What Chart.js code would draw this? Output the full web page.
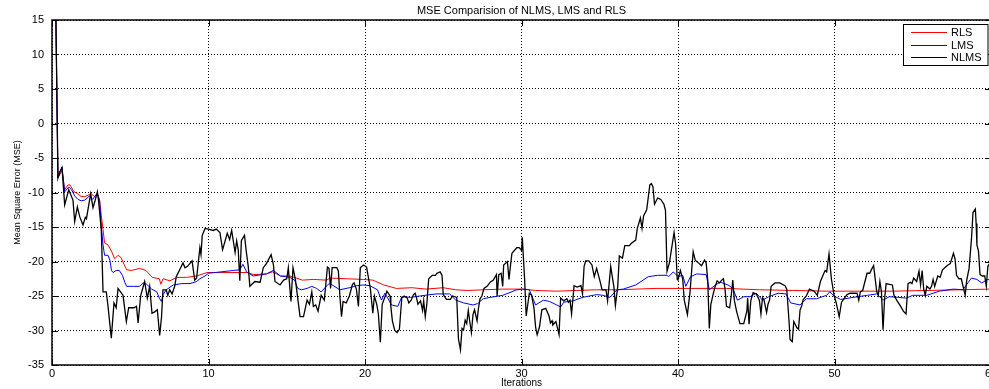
<!DOCTYPE html>
<html><head><meta charset="utf-8">
<script src="https://cdn.jsdelivr.net/npm/chart.js@4/dist/chart.umd.min.js"></script>
<style>
html,body{margin:0;padding:0;background:#fff;overflow:hidden;width:989px;height:389px}
#wrap{position:absolute;left:0;top:0;width:1044px;height:389px}
</style>
</head><body><div id="wrap"><canvas id="c" width="1044" height="389"></canvas></div>
<script>
const chartTitle = 'MSE Comparision of NLMS, LMS and RLS';
const xTitle = 'Iterations';
const yTitle = 'Mean Square Error (MSE)';
const seriesNames = ['RLS', 'LMS', 'NLMS'];
const xTicks = [0, 10, 20, 30, 40, 50, 60];
const yTicks = [-35, -30, -25, -20, -15, -10, -5, 0, 5, 10, 15];

const rlsX = [0.1,0.25,0.38,0.64,0.81,1.02,1.15,1.4,1.6,1.87,2.1,2.5,2.73,2.9,3.04,3.15,3.26,3.36,3.58,3.8,4.0,4.22,4.4,4.6,4.77,5.07,5.6,6.0,6.4,6.86,6.95,7.1,7.54,7.96,8.6,9.24,9.9,10.5,11.5,12.5,12.87,13.7,14.1,14.6,15.2,15.6,16.0,16.7,17.55,17.76,18.8,19.9,20.5,21.2,22.0,23.0,23.9,25.0,25.8,26.6,27.56,28.8,30.1,30.9,32.25,33.5,34.8,36.1,37.3,38.6,40.0,43.1,45.2,47.4,49.5,51.6,53.7,55.9,58.0,60];
const rlsY = [16,15,-7.9,-6.8,-9.6,-8.9,-8.9,-9.9,-10.1,-10.6,-10.6,-10.2,-10.6,-10.1,-11.1,-13.3,-15.4,-17.3,-17.6,-18.5,-19.6,-19.1,-19.4,-20.4,-21.2,-21.3,-21.0,-21.3,-22.3,-22.5,-23.3,-22.5,-22.8,-22.3,-22.3,-22.1,-21.6,-21.6,-21.6,-21.6,-21.9,-21.8,-21.5,-22.1,-22.1,-22.4,-22.7,-22.6,-22.7,-22.4,-22.5,-22.6,-22.7,-23.4,-23.9,-23.8,-24.0,-23.8,-24.1,-24.2,-24.1,-24.0,-24.0,-24.2,-24.3,-24.2,-24.1,-24.1,-24.0,-23.9,-23.9,-23.9,-24.1,-24.2,-24.3,-24.3,-24.3,-24.2,-24.1,-24.0];

const lmsX = [0.1,0.25,0.38,0.64,0.81,1.07,1.25,1.45,1.66,1.87,2.1,2.4,2.6,2.86,2.95,3.04,3.15,3.26,3.36,3.58,3.7,3.8,3.9,4.1,4.3,4.5,4.65,4.77,5.2,5.6,5.83,6.05,6.37,6.7,6.86,6.99,7.1,7.3,7.75,8.3,8.82,9.24,9.45,9.78,10.0,10.8,11.58,12.0,12.2,12.43,12.85,13.7,14.14,14.6,15.2,15.5,15.7,15.95,16.3,16.6,16.9,17.2,17.65,17.76,18.4,19.0,19.5,19.9,20.3,20.8,21.05,21.27,21.7,22.1,22.35,22.9,23.5,24.15,24.6,25.4,25.8,26.3,26.9,27.2,27.55,28.0,28.8,29.7,30.1,30.5,30.9,31.4,31.8,32.25,32.5,32.7,33.3,33.9,34.8,35.2,35.65,36.1,36.5,37.3,38.1,38.7,39.3,39.4,39.7,40.0,40.3,40.5,40.8,41.2,41.8,42.0,42.4,42.7,43.2,43.5,43.8,44.2,44.6,45.0,45.4,45.8,46.4,46.9,47.2,47.8,48.2,48.85,49.5,49.7,50.03,50.4,51.2,52.1,52.7,53.1,53.5,54.1,54.6,55.0,55.9,56.7,57.6,58.2,58.75,59.1,59.4,59.8,60];
const lmsY = [16,15,-7.9,-6.3,-9.9,-9.2,-9.6,-10.5,-11.0,-11.2,-11.1,-10.5,-11.0,-10.2,-10.5,-11.1,-14.9,-17.6,-19.1,-19.1,-19.8,-21.3,-21.6,-21.3,-21.3,-22.0,-23.0,-23.6,-23.6,-23.6,-23.1,-23.3,-24.0,-24.4,-25.3,-25.8,-24.8,-24.1,-23.4,-23.2,-23.2,-22.9,-22.5,-22.1,-21.7,-21.5,-21.3,-21.2,-20.4,-21.5,-22.1,-21.8,-21.3,-22.1,-22.3,-22.7,-23.9,-24.1,-23.9,-23.6,-23.9,-24.4,-23.3,-23.2,-24.1,-23.8,-23.5,-23.4,-23.5,-24.1,-25.6,-24.6,-26.3,-26.5,-25.1,-25.2,-25.0,-24.8,-24.7,-24.7,-25.6,-26.0,-26.3,-26.1,-25.4,-25.2,-24.9,-24.1,-24.0,-24.1,-26.3,-25.6,-25.8,-26.3,-26.6,-25.9,-25.7,-25.2,-24.8,-24.9,-25.2,-24.1,-24.0,-23.4,-22.2,-22.0,-22.0,-22.2,-21.5,-22.2,-22.0,-23.6,-22.2,-21.8,-21.9,-24.1,-23.4,-23.0,-23.4,-23.9,-25.6,-25.1,-25.1,-24.6,-25.6,-25.1,-24.6,-24.7,-26.0,-26.3,-25.4,-25.4,-24.9,-24.4,-25.1,-25.5,-25.2,-24.9,-24.7,-25.6,-25.1,-25.2,-25.3,-24.9,-24.9,-24.3,-24.0,-24.1,-22.4,-22.6,-23.1,-22.6,-22.7];

const nlmsX = [0.1,0.25,0.38,0.5,0.64,0.81,1.07,1.34,1.45,1.62,1.77,1.98,2.13,2.2,2.47,2.62,2.75,2.9,2.98,3.15,3.26,3.47,3.58,3.79,3.96,4.1,4.22,4.54,4.75,4.9,5.24,5.4,5.5,5.67,5.92,6.09,6.24,6.39,6.56,6.73,6.88,7.0,7.09,7.3,7.4,7.52,7.67,7.84,7.94,8.16,8.37,8.5,8.66,8.95,9.12,9.24,9.45,9.52,9.6,9.78,10.0,10.3,10.5,10.73,10.9,11.2,11.35,11.48,11.7,11.8,11.9,12.0,12.1,12.3,12.4,12.54,12.64,12.96,13.3,13.5,13.7,14.0,14.15,14.25,14.57,14.8,15.0,15.1,15.2,15.27,15.4,15.55,15.7,15.85,16.07,16.3,16.45,16.6,16.7,16.85,17.0,17.2,17.4,17.6,17.7,17.8,17.9,18.2,18.3,18.4,18.5,18.6,18.8,19.0,19.2,19.3,19.45,19.58,19.7,19.9,20.1,20.34,20.5,20.6,20.75,20.85,20.98,21.1,21.25,21.4,21.6,21.65,21.75,21.9,22.05,22.2,22.35,22.5,22.7,22.8,22.95,23.1,23.2,23.3,23.38,23.55,23.68,23.75,23.85,23.95,24.07,24.3,24.5,24.6,24.8,24.92,25.0,25.2,25.45,25.6,25.86,25.97,26.1,26.2,26.3,26.4,26.5,26.6,26.7,26.8,26.9,27.0,27.16,27.25,27.35,27.47,27.6,27.8,28.0,28.2,28.4,28.44,28.55,28.7,28.8,28.86,29.1,29.2,29.3,29.39,29.7,29.85,30.0,30.05,30.2,30.3,30.5,30.65,30.8,30.9,31.0,31.15,31.3,31.55,31.76,31.85,31.95,32.0,32.2,32.4,32.5,32.7,32.9,33.0,33.1,33.2,33.36,33.55,33.8,33.9,34.0,34.1,34.3,34.5,34.65,34.8,35.0,35.15,35.4,35.5,35.7,35.8,35.9,36.0,36.15,36.25,36.45,36.6,36.9,37.0,37.3,37.4,37.6,37.7,37.8,38.0,38.2,38.3,38.4,38.5,38.7,38.9,39.1,39.2,39.3,39.45,39.6,39.75,39.85,39.95,40.0,40.15,40.3,40.4,40.6,40.77,40.9,40.97,41.1,41.3,41.5,41.7,41.8,41.9,42.0,42.1,42.25,42.35,42.5,42.65,42.75,42.9,43.0,43.1,43.3,43.4,43.5,43.6,43.75,43.96,44.2,44.4,44.45,44.54,44.65,44.8,45.0,45.2,45.3,45.4,45.5,45.66,45.75,45.85,45.95,46.2,46.5,46.84,46.95,47.1,47.16,47.3,47.4,47.6,47.7,47.8,47.9,48.0,48.2,48.4,48.7,48.9,49.1,49.3,49.4,49.5,49.65,49.8,49.98,50.1,50.3,50.45,50.6,50.8,51.0,51.2,51.44,51.55,51.65,51.8,52.08,52.25,52.4,52.5,52.7,52.8,52.9,53.0,53.1,53.2,53.3,53.5,53.7,53.8,54.0,54.2,54.4,54.57,54.7,54.85,54.95,55.06,55.25,55.4,55.5,55.6,55.7,55.8,55.9,56.1,56.2,56.3,56.4,56.6,56.75,56.9,57.1,57.25,57.4,57.6,57.7,57.8,57.95,58.1,58.35,58.45,58.6,58.75,58.85,59.0,59.05,59.1,59.2,59.3,59.45,59.6,59.7,59.8,60];
const nlmsY = [16,15,-7.9,-7.0,-6.4,-11.8,-9.6,-11.1,-14.2,-12.1,-13.5,-14.7,-13.6,-13.8,-10.2,-12.2,-11.2,-9.9,-11.3,-15.4,-24.4,-24.4,-26.5,-31.1,-26.0,-26.7,-23.9,-24.9,-28.7,-26.7,-26.7,-26.5,-28.9,-24.9,-22.9,-25.3,-23.6,-27.5,-27.3,-27.0,-30.7,-28.0,-24.1,-24.1,-24.9,-24.1,-24.7,-23.6,-22.2,-21.2,-20.2,-20.9,-20.7,-19.9,-22.7,-22.4,-18.0,-19.0,-16.2,-15.2,-15.3,-15.5,-15.3,-15.8,-18.3,-15.9,-16.8,-15.5,-18.7,-17.0,-18.3,-22.8,-17.0,-16.2,-18.3,-20.7,-23.6,-22.9,-23.0,-20.9,-20.3,-19.0,-20.5,-22.9,-23.4,-22.7,-22.5,-20.9,-23.9,-25.8,-20.9,-22.6,-25.3,-28.0,-28.0,-25.6,-26.2,-24.4,-26.5,-26.3,-27.2,-24.9,-25.6,-20.8,-21.0,-23.9,-20.9,-20.9,-21.4,-25.2,-28.0,-25.8,-26.0,-25.0,-23.3,-23.1,-24.0,-26.5,-20.9,-20.5,-20.8,-23.9,-27.5,-25.0,-26.2,-27.5,-31.7,-26.2,-25.3,-24.3,-25.0,-26.5,-28.6,-30.0,-30.3,-29.8,-25.3,-25.0,-25.3,-26.0,-25.6,-24.8,-24.6,-25.3,-26.2,-25.7,-27.1,-25.7,-28.0,-26.2,-22.5,-22.0,-22.0,-21.7,-21.5,-22.0,-24.8,-25.5,-25.5,-25.0,-25.2,-31.2,-32.8,-29.7,-29.9,-28.5,-29.0,-27.1,-28.8,-30.3,-27.7,-27.0,-28.6,-26.8,-25.4,-25.0,-23.9,-23.6,-23.0,-22.7,-21.9,-25.0,-21.9,-21.7,-23.6,-20.5,-20.0,-22.6,-20.5,-18.8,-18.0,-18.0,-18.4,-16.5,-22.6,-27.9,-24.6,-24.9,-26.8,-29.5,-30.6,-29.5,-27.0,-26.8,-27.9,-28.9,-28.6,-29.2,-28.7,-30.6,-25.3,-25.7,-25.4,-25.9,-25.6,-27.6,-23.5,-23.7,-23.5,-24.7,-20.7,-19.9,-19.9,-20.5,-22.2,-21.0,-22.7,-24.1,-24.1,-25.7,-20.7,-22.2,-23.6,-26.4,-23.6,-19.2,-19.5,-17.7,-17.7,-17.4,-16.9,-15.2,-13.7,-15.2,-13.4,-12.5,-8.9,-8.7,-9.2,-11.7,-10.8,-11.0,-11.7,-12.6,-21.4,-20.2,-18.0,-15.8,-17.5,-22.6,-22.7,-21.3,-22.5,-25.6,-27.7,-24.4,-20.5,-18.6,-19.8,-20.2,-20.6,-19.8,-20.2,-22.7,-29.7,-26.2,-24.7,-23.8,-22.8,-23.1,-22.8,-22.5,-23.9,-26.5,-26.7,-25.0,-22.7,-25.6,-27.3,-29.0,-29.0,-27.2,-25.3,-29.1,-25.7,-24.5,-24.7,-25.6,-27.6,-25.2,-25.6,-27.4,-26.2,-25.6,-23.6,-23.1,-23.1,-23.5,-24.0,-28.8,-31.3,-31.6,-28.7,-29.6,-29.8,-27.0,-26.5,-25.5,-25.0,-24.0,-24.3,-24.9,-22.9,-21.8,-21.3,-21.5,-18.9,-22.5,-25.0,-25.9,-28.0,-25.9,-25.4,-24.8,-24.6,-24.6,-24.6,-25.6,-24.4,-24.2,-21.7,-21.7,-21.0,-20.6,-24.4,-24.9,-22.9,-24.4,-29.9,-25.4,-23.2,-23.3,-23.4,-24.9,-25.7,-26.4,-27.2,-27.6,-23.2,-23.0,-23.2,-22.4,-22.9,-21.4,-23.4,-21.3,-24.0,-24.9,-23.6,-24.0,-23.6,-22.6,-23.6,-22.1,-22.3,-21.2,-20.8,-20.5,-20.3,-18.8,-19.6,-22.0,-22.5,-22.5,-24.9,-22.7,-21.0,-16.8,-12.9,-12.4,-14.5,-17.6,-18.5,-21.9,-22.1,-22.1,-23.6,-20.7,-20.0];

const seriesColors = ['#ff0000', '#0000ff', '#000000'];

function pts(xs, ys) { return xs.map((x, i) => ({ x: x, y: ys[i] })); }

const FONT = '"Liberation Sans", Arial, Helvetica, sans-serif';

const framePlugin = {
  id: 'frame',
  afterDatasetsDraw(chart) {
    const { ctx, chartArea: a, scales } = chart;
    ctx.save();
    // inward tick marks (MATLAB style)
    ctx.strokeStyle = '#000'; ctx.lineWidth = 1; ctx.setLineDash([]);
    ctx.beginPath();
    xTicks.forEach(v => {
      const px = Math.round(scales.x.getPixelForValue(v)) + 0.5;
      ctx.moveTo(px, a.bottom); ctx.lineTo(px, a.bottom - 6);
      ctx.moveTo(px, a.top); ctx.lineTo(px, a.top + 6);
    });
    yTicks.forEach(v => {
      const py = Math.round(scales.y.getPixelForValue(v)) + 0.5;
      ctx.moveTo(a.left, py); ctx.lineTo(a.left + 6, py);
      ctx.moveTo(a.right, py); ctx.lineTo(a.right - 6, py);
    });
    ctx.stroke();
    // frame
    ctx.lineWidth = 1.5;
    ctx.strokeRect(a.left, a.top, a.right - a.left, a.bottom - a.top);
    // legend
    const lx = 903.5, ly = 24.5, lw = 84.5, lh = 41;
    ctx.fillStyle = '#fff';
    ctx.fillRect(lx, ly, lw, lh);
    ctx.lineWidth = 1;
    ctx.strokeStyle = '#000';
    ctx.strokeRect(lx, ly, lw, lh);
    const rows = [32.5, 45.5, 57.5];
    ctx.font = '11px ' + FONT;
    ctx.textBaseline = 'middle';
    ctx.textAlign = 'left';
    chart.data.datasets.forEach((ds, i) => {
      ctx.strokeStyle = ds.borderColor;
      ctx.lineWidth = 1;
      ctx.beginPath();
      ctx.moveTo(911, rows[i]); ctx.lineTo(947, rows[i]);
      ctx.stroke();
      ctx.fillStyle = '#000';
      ctx.fillText(ds.label, 951, rows[i] + 0.5);
    });
    // title
    ctx.font = '11px ' + FONT;
    ctx.textAlign = 'center';
    ctx.fillStyle = '#000';
    ctx.fillText(chartTitle, (a.left + a.right) / 2, 10.5);
    ctx.restore();
  }
};

new Chart(document.getElementById('c'), {
  type: 'line',
  data: {
    datasets: [
      { label: seriesNames[0], data: pts(rlsX, rlsY), borderColor: seriesColors[0], borderWidth: 1, order: 3 },
      { label: seriesNames[1], data: pts(lmsX, lmsY), borderColor: seriesColors[1], borderWidth: 1, order: 2 },
      { label: seriesNames[2], data: pts(nlmsX, nlmsY), borderColor: seriesColors[2], borderWidth: 1.3, order: 1 }
    ]
  },
  options: {
    responsive: false,
    animation: false,
    parsing: true,
    elements: { point: { radius: 0 }, line: { tension: 0, fill: false } },
    layout: { padding: { top: 20, right: 53, left: 0, bottom: 0 } },
    plugins: { legend: { display: false }, title: { display: false }, tooltip: { enabled: false } },
    scales: {
      x: {
        type: 'linear', min: 0, max: 60,
        afterBuildTicks: s => { s.ticks = xTicks.map(v => ({ value: v })); },
        afterFit: s => { s.height = 24; },
        ticks: { font: { family: FONT, size: 11 }, color: '#000', padding: 2, maxRotation: 0 },
        grid: { color: '#000', lineWidth: 1, drawTicks: false },
        border: { display: false, dash: [1, 2] },
        title: { display: true, text: xTitle, font: { family: FONT, size: 10 }, color: '#000', padding: { top: 0, bottom: 0 } }
      },
      y: {
        type: 'linear', min: -35, max: 15,
        afterBuildTicks: s => { s.ticks = yTicks.map(v => ({ value: v })); },
        afterFit: s => { s.width = 52; },
        ticks: { font: { family: FONT, size: 11 }, color: '#000', padding: 8 },
        grid: { color: '#000', lineWidth: 1, drawTicks: false },
        border: { display: false, dash: [1, 2] },
        title: { display: true, text: yTitle, font: { family: FONT, size: 9 }, color: '#000', padding: { top: 12.5, bottom: 0 } }
      }
    }
  },
  plugins: [framePlugin]
});
</script>
</body></html>
